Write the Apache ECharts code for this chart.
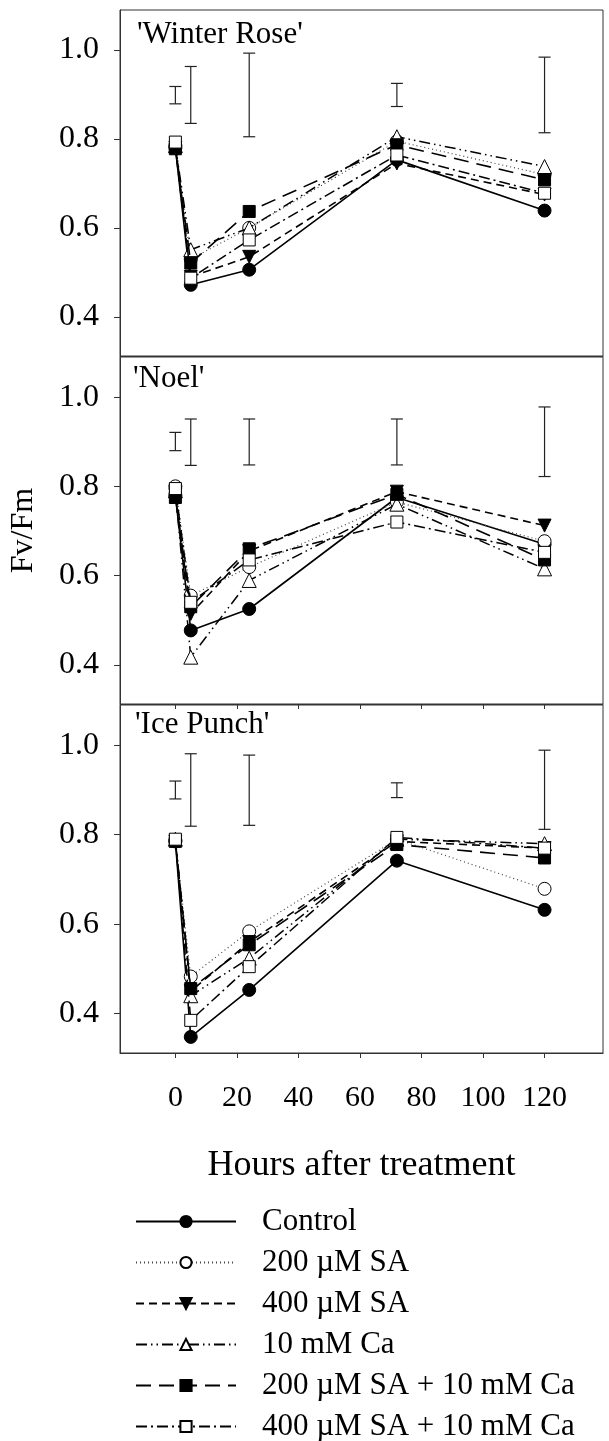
<!DOCTYPE html>
<html>
<head>
<meta charset="utf-8">
<script src="https://cdn.jsdelivr.net/npm/echarts@6/dist/echarts.min.js"></script>
<style>
html,body{margin:0;padding:0;background:#fff;}
#chart{width:609px;height:1441px;}
</style>
</head>
<body>
<div id="chart"></div>
<script>
// ---------- data ----------
const hours = [0, 5, 24, 72, 120];
const xTicks = [0, 20, 40, 60, 80, 100, 120];
const yTicks = [0.4, 0.6, 0.8, 1.0];
const panelNames = ["'Winter Rose'", "'Noel'", "'Ice Punch'"];
const treatmentNames = ['Control', '200 \u00b5M SA', '400 \u00b5M SA', '10 mM Ca', '200 \u00b5M SA + 10 mM Ca', '400 \u00b5M SA + 10 mM Ca'];

// Winter Rose
const wrControl = [0.780, 0.472, 0.506, 0.753, 0.639];
const wrSA200   = [0.785, 0.530, 0.600, 0.795, 0.720];
const wrSA400   = [0.780, 0.490, 0.535, 0.745, 0.675];
const wrCa10    = [0.785, 0.551, 0.600, 0.805, 0.738];
const wrSA200Ca = [0.778, 0.521, 0.637, 0.787, 0.708];
const wrSA400Ca = [0.793, 0.487, 0.573, 0.764, 0.678];
const wrErrLo   = [0.879, 0.835, 0.805, 0.873, 0.814];
const wrErrHi   = [0.918, 0.963, 0.993, 0.925, 0.984];

// Noel
const noControl = [0.780, 0.477, 0.525, 0.775, 0.670];
const noSA200   = [0.800, 0.555, 0.619, 0.765, 0.677];
const noSA400   = [0.780, 0.514, 0.655, 0.788, 0.712];
const noCa10    = [0.790, 0.417, 0.589, 0.760, 0.615];
const noSA200Ca = [0.775, 0.530, 0.660, 0.782, 0.635];
const noSA400Ca = [0.795, 0.540, 0.635, 0.720, 0.652];
const noErrLo   = [0.880, 0.847, 0.848, 0.848, 0.822];
const noErrHi   = [0.921, 0.951, 0.951, 0.951, 0.978];

// Ice Punch
const ipControl = [0.785, 0.348, 0.453, 0.742, 0.632];
const ipSA200   = [0.788, 0.483, 0.584, 0.790, 0.679];
const ipSA400   = [0.785, 0.450, 0.560, 0.785, 0.770];
const ipCa10    = [0.790, 0.440, 0.524, 0.790, 0.780];
const ipSA200Ca = [0.785, 0.456, 0.554, 0.778, 0.748];
const ipSA400Ca = [0.790, 0.385, 0.505, 0.794, 0.770];
const ipErrLo   = [0.880, 0.819, 0.821, 0.883, 0.812];
const ipErrHi   = [0.920, 0.981, 0.978, 0.916, 0.989];

const panelData = [
  [wrControl, wrSA200, wrSA400, wrCa10, wrSA200Ca, wrSA400Ca],
  [noControl, noSA200, noSA400, noCa10, noSA200Ca, noSA400Ca],
  [ipControl, ipSA200, ipSA400, ipCa10, ipSA200Ca, ipSA400Ca]
];
const panelErr = [[wrErrLo, wrErrHi], [noErrLo, noErrHi], [ipErrLo, ipErrHi]];

// ---------- styles ----------
const FONT = "'Liberation Serif','Times New Roman',serif";
const invTri = 'path://M0,0 L10,0 L5,9 Z';
const styles = [
  {symbol: 'circle', size: 13, fill: '#000', line: 'solid', width: 1.6, lc: '#000'},
  {symbol: 'circle', size: 13, fill: '#fff', line: [1, 3], width: 1.2, lc: '#444'},
  {symbol: invTri, size: 13, fill: '#000', line: [8, 5], width: 1.6, lc: '#000'},
  {symbol: 'triangle', size: 14, fill: '#fff', line: [11, 4, 1.5, 4, 1.5, 4], width: 1.5, lc: '#000'},
  {symbol: 'rect', size: 12, fill: '#000', line: [15, 8], width: 1.6, lc: '#000'},
  {symbol: 'rect', size: 12, fill: '#fff', line: [11, 4, 2, 4], width: 1.5, lc: '#000'}
];

const gridTops = [10, 357, 705];
const gridHeights = [346, 347, 348];

const grids = gridTops.map((t, i) => ({
  left: 120, right: 6, top: t, height: gridHeights[i],
  show: true, borderColor: '#333', borderWidth: 1, backgroundColor: 'transparent'
}));

const xAxes = gridTops.map((t, i) => ({
  type: 'value', gridIndex: i, min: -18, max: 139,
  axisLine: {show: true, onZero: false, lineStyle: {color: '#333'}},
  axisTick: {show: i > 0, length: 5, customValues: xTicks, lineStyle: {color: '#333'}},
  axisLabel: {show: i === 2, customValues: xTicks, margin: 30, fontFamily: FONT, fontSize: 30, color: '#000'},
  splitLine: {show: false},
  name: i === 2 ? 'Hours after treatment' : '',
  nameLocation: 'middle', nameGap: 95,
  nameTextStyle: {fontFamily: FONT, fontSize: 36, color: '#000'}
}));

const yAxes = gridTops.map((t, i) => ({
  type: 'value', gridIndex: i, min: 0.312, max: 1.09,
  axisLine: {show: true, onZero: false, lineStyle: {color: '#333'}},
  axisTick: {show: true, length: 6, customValues: yTicks, lineStyle: {color: '#333'}},
  axisLabel: {show: true, customValues: yTicks, margin: 21, fontFamily: FONT, fontSize: 32, color: '#000',
              formatter: v => v.toFixed(1)},
  splitLine: {show: false},
  name: i === 1 ? 'Fv/Fm' : '',
  nameLocation: 'middle', nameGap: 80, nameRotate: 90,
  nameTextStyle: {fontFamily: FONT, fontSize: 32, color: '#000'}
}));

const series = [];
panelData.forEach((sets, p) => {
  // error bars
  series.push({
    type: 'custom', xAxisIndex: p, yAxisIndex: p, silent: true, z: 1,
    data: hours.map((h, i) => [h, panelErr[p][0][i], panelErr[p][1][i]]),
    encode: {x: 0, y: [1, 2]},
    renderItem: (params, api) => {
      const x = api.value(0);
      const a = api.coord([x, api.value(1)]);
      const b = api.coord([x, api.value(2)]);
      const hw = 6;
      const st = {stroke: '#222', lineWidth: 1.2};
      return {type: 'group', children: [
        {type: 'line', shape: {x1: a[0], y1: a[1], x2: b[0], y2: b[1]}, style: st},
        {type: 'line', shape: {x1: a[0] - hw, y1: a[1], x2: a[0] + hw, y2: a[1]}, style: st},
        {type: 'line', shape: {x1: b[0] - hw, y1: b[1], x2: b[0] + hw, y2: b[1]}, style: st}
      ]};
    }
  });
  sets.forEach((vals, k) => {
    const s = styles[k];
    series.push({
      type: 'line', name: treatmentNames[k], xAxisIndex: p, yAxisIndex: p,
      data: hours.map((h, i) => [h, vals[i]]),
      symbol: s.symbol, symbolSize: s.size, showAllSymbol: true,
      itemStyle: {color: s.fill, borderColor: '#000', borderWidth: 1},
      lineStyle: {color: s.lc, width: s.width, type: s.line},
      emphasis: {disabled: true},
      animation: false, z: 2 + k
    });
  });
});

const titles = [
  {text: panelNames[0], left: 137, top: 19},
  {text: panelNames[1], left: 133, top: 363},
  {text: panelNames[2], left: 135, top: 709}
].map(t => Object.assign(t, {textStyle: {fontFamily: FONT, fontSize: 31, fontWeight: 'normal', color: '#000'}, padding: 0}));

const option = {
  backgroundColor: '#fff',
  animation: false,
  title: titles,
  grid: grids,
  xAxis: xAxes,
  yAxis: yAxes,
  legend: {
    data: treatmentNames,
    orient: 'vertical', left: 135, top: 1206, height: 260, padding: 0,
    itemWidth: 100, itemHeight: 14, itemGap: 10,
    selectedMode: false,
    textStyle: {fontFamily: FONT, fontSize: 31, color: '#000', lineHeight: 31, padding: [0, 0, 0, 21]}
  },
  series: series
};

const chart = echarts.init(document.getElementById('chart'), null, {renderer: 'canvas'});
chart.setOption(option);
</script>
</body>
</html>
